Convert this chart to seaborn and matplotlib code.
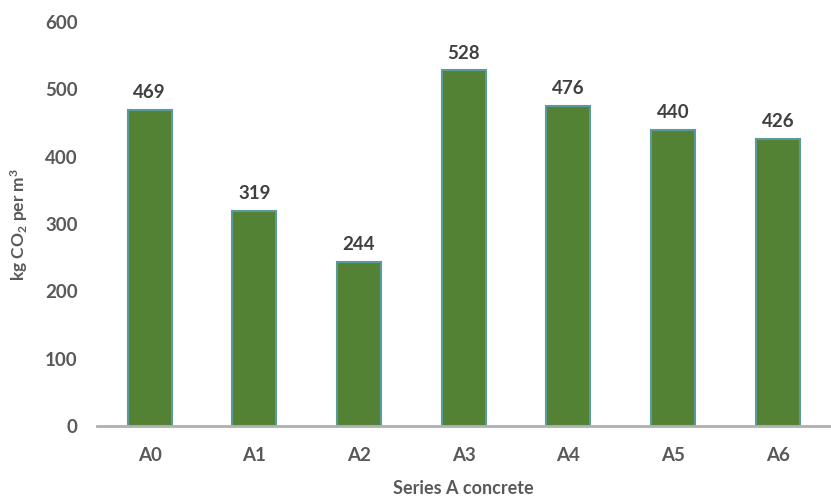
import matplotlib
matplotlib.use('Agg')
import matplotlib.pyplot as plt
import seaborn as sns
import pandas as pd

mixes = ['A0', 'A1', 'A2', 'A3', 'A4', 'A5', 'A6']
co2 = [469, 319, 244, 528, 476, 440, 426]

df = pd.DataFrame({'mix': mixes, 'co2': co2})

sns.set_style('white')
plt.rcParams['font.family'] = ['Lato', 'DejaVu Sans']
plt.rcParams['mathtext.fontset'] = 'custom'
plt.rcParams['mathtext.rm'] = 'Lato:bold'
plt.rcParams['mathtext.default'] = 'rm'

fig = plt.figure(figsize=(8.31, 4.98), dpi=100)
ax = fig.add_axes([0.117, 0.1446, 0.882, 0.8112])

sns.barplot(data=df, x='mix', y='co2', color='#548235', width=0.42,
            edgecolor='#5a9a9a', linewidth=1.5, saturation=1, ax=ax)

for i, v in enumerate(co2):
    ax.text(i, v + 13, str(v), ha='center', va='bottom', fontsize=13.5,
            fontweight='bold', color='#404040')

ax.set_ylim(0, 600)
ax.set_xlim(-0.5, 6.5)
ax.set_yticks(range(0, 601, 100))
ax.tick_params(axis='both', length=0, labelsize=13.5, colors='#595959')
ax.tick_params(axis='y', pad=14)
ax.tick_params(axis='x', pad=15)
for lab in ax.get_xticklabels() + ax.get_yticklabels():
    lab.set_fontweight('bold')

for s in ['top', 'right', 'left']:
    ax.spines[s].set_visible(False)
ax.spines['bottom'].set_color('#b0b0b0')
ax.spines['bottom'].set_linewidth(2)

ax.set_xlabel('Series A concrete', fontsize=13, fontweight='bold', color='#595959', labelpad=12)
ax.set_ylabel('kg CO$_2$ per m$^3$', fontsize=12.5, fontweight='bold', color='#595959', labelpad=11)

fig.savefig('out.png', dpi=100)
